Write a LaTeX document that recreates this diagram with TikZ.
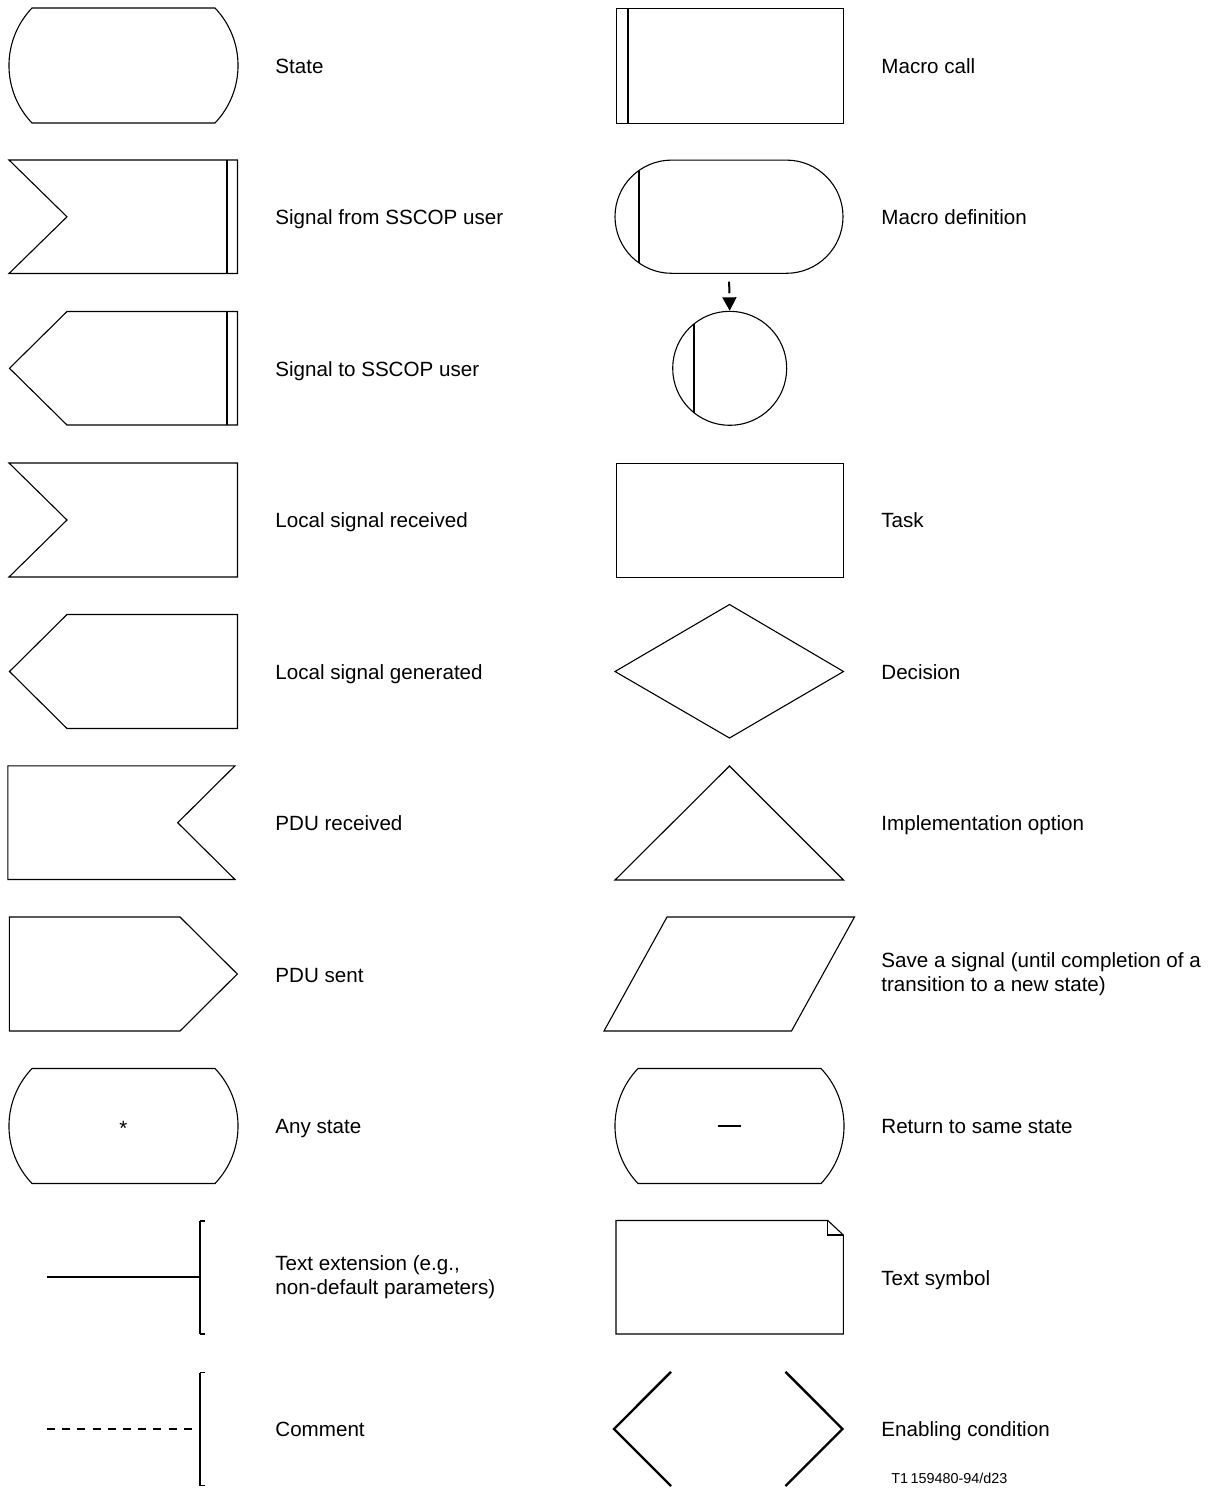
\documentclass[tikz,border=0pt]{standalone}
\usepackage{fontspec}
\setmainfont{Liberation Sans}
\usetikzlibrary{shapes.misc,arrows.meta}
\tikzset{
  outl/.style={draw=black,line width=0.55pt,line join=miter},
  thk/.style={draw=black,line width=1pt},
  brk/.style={draw=black,line width=1.4pt},
  lbl/.style={inner sep=0pt,anchor=base west,font=\fontsize{10.3}{12}\selectfont},
  lbl2/.style={inner sep=0pt,anchor=west,align=left,font=\fontsize{10.3}{12}\selectfont},
  statesym/.pic={
    \draw[outl] (-91.5,-57.5) -- (91.5,-57.5)
      .. controls (122.2,-25.3) and (122.2,25.3) .. (91.5,57.5)
      -- (-91.5,57.5)
      .. controls (-122.2,25.3) and (-122.2,-25.3) .. (-91.5,-57.5) -- cycle;
  }
}
\begin{document}
\begin{tikzpicture}[x=0.5pt,y=-0.5pt]
\path[use as bounding box,fill=white] (0,0) rectangle (1210,1488);

% ---------- left column shapes ----------
% State
\pic (st) at (123.5,65.5) {statesym};
% Signal from SSCOP user
\draw[outl] (9,160) -- (237.5,160) -- (237.5,273.5) -- (9,273.5) -- (67,216.8) -- cycle;
\draw[thk] (226.5,160) -- (226.5,273.5);
% Signal to SSCOP user
\draw[outl] (67,311.5) -- (237.5,311.5) -- (237.5,425) -- (67,425) -- (9.5,368.3) -- cycle;
\draw[thk] (226.5,311.5) -- (226.5,425);
% Local signal received
\draw[outl] (9,463) -- (237.5,463) -- (237.5,577) -- (9,577) -- (67,520) -- cycle;
% Local signal generated
\draw[outl] (67,614.5) -- (237.5,614.5) -- (237.5,728.5) -- (67,728.5) -- (9.5,671.5) -- cycle;
% PDU received
\draw[outl] (7.8,765.8) -- (235,765.8) -- (177.7,822.7) -- (235,879.5) -- (7.8,879.5) -- cycle;
% PDU sent
\draw[outl] (9.3,917) -- (180,917) -- (237.3,974) -- (180,1031) -- (9.3,1031) -- cycle;
% Any state
\pic (as) at (123.5,1126) {statesym};
\node[inner sep=0pt,font=\fontsize{10.3}{12}\selectfont] (star) at (123.5,1128) {*};
% Text extension
\coordinate (te1) at (47,1277);
\coordinate (te2) at (200,1277);
\draw[thk] (te1) -- (te2);
\draw[brk] (200,1221) -- (200,1334);
\draw[line width=0.6pt] (199.5,1221) -- (204.5,1221) (199.5,1334) -- (204.5,1334);
% Comment
\coordinate (cm1) at (47,1429);
\coordinate (cm2) at (200,1429);
\draw[thk,dash pattern=on 4pt off 3.6pt] (cm1) -- (cm2);
\draw[brk] (200,1372.5) -- (200,1485.5);
\draw[line width=0.6pt] (199.5,1372.5) -- (204.5,1372.5) (199.5,1485.5) -- (204.5,1485.5);

% ---------- right column shapes ----------
% Macro call
\draw[outl] (616.5,8.5) rectangle (843.5,123.5);
\draw[thk] (627.5,8.5) -- (627.5,123.5);
% Macro definition
\node[rounded rectangle,outl,minimum width=114pt,minimum height=56.6pt,inner sep=0pt] (md) at (729,216.7) {};
\draw[thk] (639,170.5) -- (639,263);
% Macro (circle)
\node[circle,outl,minimum size=57pt,inner sep=0pt] (mc) at (729.7,368.3) {};
\draw[thk] (694,324) -- (694,412.7);
\draw[line width=1pt,dash pattern=on 0pt off 3.85pt on 5.85pt off 20pt,
      -{Triangle[length=6.7pt,width=6.9pt]}] (md.south) -- (mc.north);
% Task
\draw[outl] (616.5,463.5) rectangle (843.5,577.5);
% Decision
\draw[outl] (615,671.5) -- (729.5,604.5) -- (843.5,671.5) -- (729.5,738) -- cycle;
% Implementation option
\draw[outl] (729.5,766) -- (843.5,880) -- (615,880) -- cycle;
% Save a signal
\draw[outl] (667,917) -- (854.5,917) -- (791.5,1031) -- (604,1031) -- cycle;
% Return to same state
\pic (rs) at (729.5,1126) {statesym};
\draw[line width=1.1pt] (718.3,1125.7) -- (740.7,1125.7);
% Text symbol
\draw[outl] (616,1220.5) -- (827.8,1220.5) -- (843.3,1235) -- (843.3,1334) -- (616,1334) -- cycle;
\draw[outl] (827.8,1220.5) -- (827.8,1235) -- (843.3,1235);
% Enabling condition
\draw[line width=1.2pt] (671,1371.8) -- (614,1429) -- (671,1486);
\draw[line width=1.2pt] (785.5,1371.8) -- (842.5,1429) -- (785.5,1486);

% ---------- labels ----------
\node[lbl] (l1) at (275,73.2) {State};
\node[lbl] (l2) at (275,224.6) {Signal from SSCOP user};
\node[lbl] (l3) at (275,376) {Signal to SSCOP user};
\node[lbl] (l4) at (275,527.6) {Local signal received};
\node[lbl] (l5) at (275,679) {Local signal generated};
\node[lbl] (l6) at (275,830.6) {PDU received};
\node[lbl] (l7) at (275,982) {PDU sent};
\node[lbl] (l8) at (275,1133.6) {Any state};
\node[lbl2] (l9) at (275,1277.5) {Text extension (e.g.,\\non-default parameters)};
\node[lbl] (l10) at (275,1436.6) {Comment};

\node[lbl] (r1) at (881,73.2) {Macro call};
\node[lbl] (r2) at (881,224.6) {Macro definition};
\node[lbl] (r4) at (881,527.6) {Task};
\node[lbl] (r5) at (881,679) {Decision};
\node[lbl] (r6) at (881,830.6) {Implementation option};
\node[lbl2] (r7) at (881,974) {Save a signal (until completion of a\\transition to a new state)};
\node[lbl] (r8) at (881,1133.6) {Return to same state};
\node[lbl] (r9) at (881,1285) {Text symbol};
\node[lbl] (r10) at (881,1436.6) {Enabling condition};

\node[inner sep=0pt,anchor=base west,font=\fontsize{7.2}{8}\selectfont] (fig) at (891,1483) {T1\,159480-94/d23};
\end{tikzpicture}
\end{document}
